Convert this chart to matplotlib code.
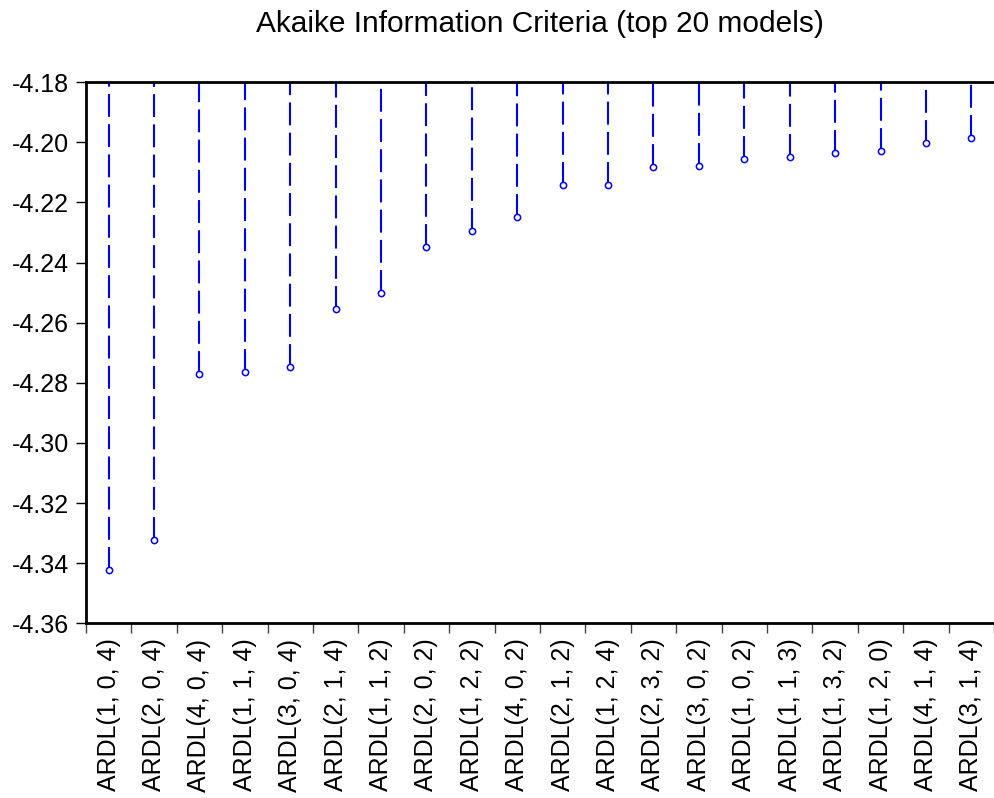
import matplotlib
matplotlib.use('Agg')
import matplotlib.pyplot as plt
import numpy as np

plt.rcParams['font.family'] = ['Liberation Sans', 'DejaVu Sans']

# modelos y valores AIC
models = ['ARDL(1, 0, 4)', 'ARDL(2, 0, 4)', 'ARDL(4, 0, 4)', 'ARDL(1, 1, 4)',
          'ARDL(3, 0, 4)', 'ARDL(2, 1, 4)', 'ARDL(1, 1, 2)', 'ARDL(2, 0, 2)',
          'ARDL(1, 2, 2)', 'ARDL(4, 0, 2)', 'ARDL(2, 1, 2)', 'ARDL(1, 2, 4)',
          'ARDL(2, 3, 2)', 'ARDL(3, 0, 2)', 'ARDL(1, 0, 2)', 'ARDL(1, 1, 3)',
          'ARDL(1, 3, 2)', 'ARDL(1, 2, 0)', 'ARDL(4, 1, 4)', 'ARDL(3, 1, 4)']
aic = [-4.3424, -4.3324, -4.2772, -4.2765, -4.2748, -4.2555, -4.2502, -4.2349,
       -4.2296, -4.2249, -4.2143, -4.2143, -4.2083, -4.2080, -4.2056, -4.2050,
       -4.2036, -4.2030, -4.2003, -4.1986]
yticks = [-4.36, -4.34, -4.32, -4.30, -4.28, -4.26, -4.24, -4.22, -4.20, -4.18]

fig = plt.figure(figsize=(9.95, 7.98), dpi=100)
ax = fig.add_axes([0.0864, 0.219, 0.9126, 0.678])

x = np.arange(len(models))
ax.vlines(x, aic, -4.18, colors='blue', linestyles=(0, (11, 3.5)), linewidth=1.5)
ax.plot(x, aic, 'o', mfc='white', mec='blue', ms=4.5, mew=1.1, zorder=3)

ax.set_xlim(-0.5, len(models) - 0.5)
ax.set_ylim(-4.36, -4.18)
ax.set_yticks(yticks)
ax.set_yticklabels(['%.2f' % v for v in yticks], fontsize=18)
ax.set_xticks(x)
ax.set_xticklabels(models, rotation=90, fontsize=18)
ax.tick_params(axis='x', which='major', length=0, pad=11)
ax.set_xticks(np.arange(len(models) + 1) - 0.5, minor=True)
ax.tick_params(axis='x', which='minor', length=7, width=1, direction='out', color='#444444')
ax.tick_params(axis='y', length=7, width=1, direction='out', pad=5)
for s in ['left', 'bottom', 'top']:
    ax.spines[s].set_linewidth(2)
ax.spines['right'].set_color('#999999')

# titulo centrado sobre los ejes
ax.set_title('Akaike Information Criteria (top 20 models)', fontsize=21.5, pad=36)

plt.savefig('out.png', dpi=100)
